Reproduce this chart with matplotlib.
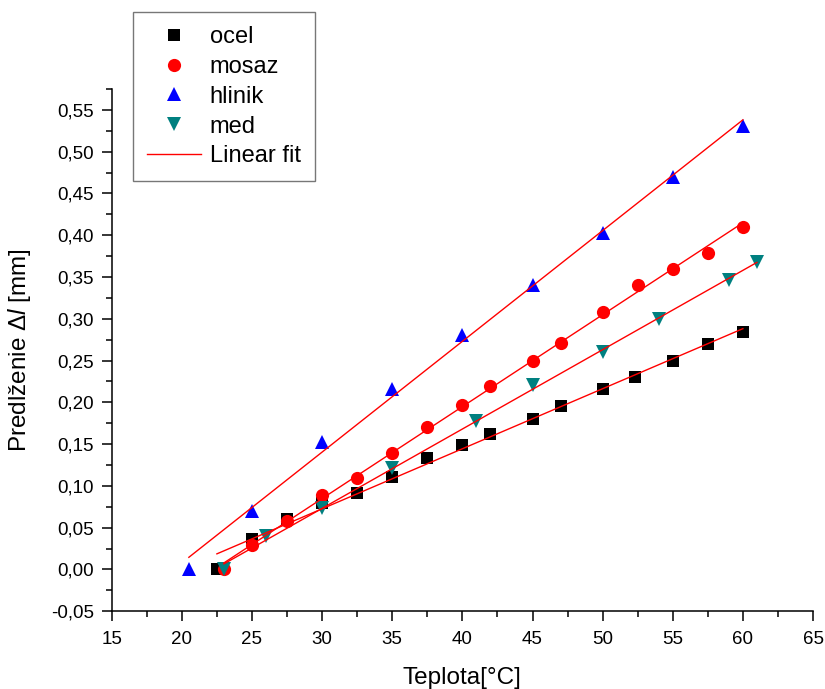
import numpy as np
import matplotlib
matplotlib.use('Agg')
import matplotlib.pyplot as plt
from matplotlib.ticker import MultipleLocator, FuncFormatter

plt.rcParams['font.family'] = ['Liberation Sans', 'DejaVu Sans']
plt.rcParams['mathtext.fontset'] = 'custom'
plt.rcParams['mathtext.rm'] = 'Liberation Sans'
plt.rcParams['mathtext.it'] = 'Liberation Sans:italic'

# --- data ---
ocel_x = [22.5, 25, 27.5, 30, 32.5, 35, 37.5, 40, 42, 45, 47, 50, 52.3, 55, 57.5, 60]
ocel_y = [0.0, 0.036, 0.061, 0.079, 0.091, 0.111, 0.133, 0.149, 0.162, 0.180, 0.196, 0.216, 0.230, 0.249, 0.270, 0.284]

mosaz_x = [23, 25, 27.5, 30, 32.5, 35, 37.5, 40, 42, 45, 47, 50, 52.5, 55, 57.5, 60]
mosaz_y = [0.0, 0.029, 0.058, 0.089, 0.110, 0.140, 0.171, 0.197, 0.220, 0.250, 0.271, 0.308, 0.341, 0.360, 0.379, 0.410]

hlinik_x = [20.5, 25, 30, 35, 40, 45, 50, 55, 60]
hlinik_y = [0.0, 0.070, 0.152, 0.216, 0.281, 0.341, 0.403, 0.470, 0.531]

med_x = [23, 26, 30, 35, 41, 45, 50, 54, 59, 61]
med_y = [0.0, 0.040, 0.074, 0.121, 0.178, 0.221, 0.260, 0.300, 0.347, 0.368]

series = [
    ('ocel', ocel_x, ocel_y, 's', 'black', 8),
    ('mosaz', mosaz_x, mosaz_y, 'o', 'red', 9.5),
    ('hlinik', hlinik_x, hlinik_y, '^', 'blue', 10),
    ('med', med_x, med_y, 'v', '#008080', 10),
]

fig = plt.figure(figsize=(8.25, 6.89), dpi=100)
ax = fig.add_axes([0.1354, 0.1128, 0.8501, 0.758])

handles = []
for name, xs, ys, mk, col, ms in series:
    h, = ax.plot(xs, ys, linestyle='none', marker=mk, color=col, markersize=ms,
                 markeredgewidth=0, label=name, zorder=2)
    handles.append(h)

# linear fits over each series' own range
for name, xs, ys, mk, col, ms in series:
    xs = np.array(xs); ys = np.array(ys)
    k, q = np.polyfit(xs, ys, 1)
    xx = np.array([xs.min(), xs.max()])
    fit, = ax.plot(xx, k * xx + q, color='red', lw=1.0, zorder=3)
fit.set_label('Linear fit')
handles.append(fit)

ax.set_xlim(15, 65)
ax.set_ylim(-0.05, 0.575)
ax.xaxis.set_major_locator(MultipleLocator(5))
ax.xaxis.set_minor_locator(MultipleLocator(2.5))
ax.yaxis.set_major_locator(MultipleLocator(0.05))
ax.yaxis.set_minor_locator(MultipleLocator(0.025))
ax.yaxis.set_major_formatter(FuncFormatter(lambda v, p: f'{v:.2f}'.replace('.', ',').replace('-0,00', '0,00')))

for s in ['top', 'right']:
    ax.spines[s].set_visible(False)
for s in ['left', 'bottom']:
    ax.spines[s].set_linewidth(1.1)
ax.tick_params(which='major', direction='out', length=7, width=1.1, labelsize=13.5)
ax.tick_params(axis='y', which='major', pad=6)
ax.tick_params(axis='x', which='major', pad=7)
ax.tick_params(which='minor', direction='out', length=4, width=1.1)

ax.set_xlabel('Teplota[°C]', fontsize=17.5, va='top')
ax.set_ylabel(r'Predlženie $\Delta l$ [mm]', fontsize=17.5)
ax.xaxis.set_label_coords(0.5, -0.107)
ax.yaxis.set_label_coords(-0.112, 0.5)

leg = fig.legend(handles=handles, loc='upper left', bbox_to_anchor=(0.161, 0.9826),
                 bbox_transform=fig.transFigure, borderaxespad=0, fontsize=17,
                 frameon=True, fancybox=False, edgecolor='#555555', handlelength=2.3,
                 labelspacing=0.33, borderpad=0.6, handletextpad=0.35)
leg.get_frame().set_linewidth(1.0)

fig.savefig('out.png', dpi=100)
